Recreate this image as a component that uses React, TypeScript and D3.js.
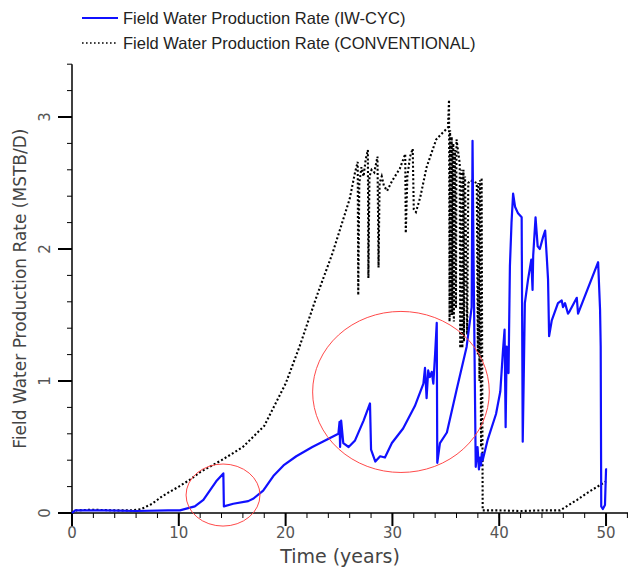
import React from "react";
import * as d3 from "d3";

const W = 629;
const H = 571;

// [time (years), rate (MSTB/D)]
const iwCycSeries: [number, number][] = [
  [0, 0.0], [0.3, 0.02], [3, 0.02], [6, 0.015], [9, 0.02], [10.1, 0.02], [11.5, 0.05], [12.3, 0.1],
  [12.9, 0.17], [13.5, 0.24], [14.17, 0.3], [14.22, 0.05], [15.1, 0.07], [16.5, 0.09], [17.0, 0.11],
  [17.9, 0.17], [18.85, 0.28], [19.8, 0.36], [21.0, 0.43], [22.5, 0.5], [24.94, 0.6], [25.05, 0.69],
  [25.1, 0.5], [25.2, 0.7], [25.4, 0.53], [25.9, 0.5], [26.5, 0.55], [27.3, 0.7], [27.9, 0.83],
  [28.0, 0.48], [28.4, 0.39], [28.85, 0.43], [29.3, 0.42], [29.95, 0.53], [31.0, 0.64], [32.1, 0.81],
  [32.9, 0.98], [33.05, 1.1], [33.2, 0.87], [33.35, 1.08], [33.5, 1.03], [33.68, 1.07], [33.83, 0.98],
  [34.0, 1.21], [34.15, 1.44], [34.2, 0.38], [34.45, 0.53], [35.1, 0.61], [36.0, 0.93], [36.95, 1.26],
  [37.42, 1.56], [37.5, 2.82], [37.6, 1.9], [37.8, 0.35], [37.97, 0.5], [38.1, 0.33], [38.2, 0.42],
  [38.3, 0.36], [38.36, 0.45], [38.45, 0.4], [38.9, 0.55], [39.7, 0.75], [40.1, 0.92], [40.35, 1.23],
  [40.5, 1.39], [40.6, 0.65], [40.7, 1.26], [40.87, 1.06], [41.0, 1.87], [41.15, 2.2], [41.3, 2.42],
  [41.48, 2.32], [41.76, 2.27], [42.1, 2.24], [42.2, 0.54], [42.32, 1.16], [42.4, 1.59], [42.7, 1.77],
  [43.0, 1.92], [43.12, 1.69], [43.18, 1.95], [43.4, 2.24], [43.6, 2.02], [43.8, 2.0], [44.1, 2.09],
  [44.3, 2.14], [44.45, 1.94], [44.57, 1.77], [44.67, 1.34], [44.92, 1.46], [45.5, 1.59], [45.85, 1.61],
  [45.97, 1.56], [46.16, 1.59], [46.44, 1.51], [46.6, 1.53], [47.26, 1.63], [47.38, 1.51], [49.26, 1.9],
  [49.44, 1.54], [49.5, 1.26], [49.55, 0.05], [49.7, 0.03], [49.9, 0.06], [50.0, 0.33], [50.1, 0.33],
];

const conventionalSeries: [number, number][] = [
  [0, 0], [0.4, 0.02], [2, 0.025], [4, 0.02], [5.5, 0.02], [6.5, 0.03], [7.5, 0.07], [8.5, 0.13],
  [10, 0.2], [11, 0.25], [12, 0.31], [14, 0.4], [16, 0.5], [18, 0.66], [19, 0.82], [20, 0.98],
  [21.3, 1.26], [22.9, 1.64], [24.4, 1.97], [26, 2.38], [26.5, 2.58], [26.75, 2.66], [26.8, 1.65],
  [26.9, 2.5], [27.1, 2.62], [27.3, 2.55], [27.5, 2.68], [27.7, 2.75], [27.75, 1.78], [27.85, 2.55],
  [28.05, 2.6], [28.3, 2.58], [28.6, 2.7], [28.7, 1.86], [28.8, 2.5], [29.0, 2.55], [29.2, 2.48],
  [29.5, 2.44], [30.0, 2.52], [30.7, 2.61], [31.2, 2.72], [31.25, 2.12], [31.4, 2.55], [31.65, 2.7],
  [31.9, 2.76], [32.0, 2.3], [32.2, 2.28], [32.6, 2.39], [33.2, 2.62], [34.1, 2.83], [34.7, 2.88],
  [35.2, 2.92], [35.3, 3.13], [35.35, 1.45], [35.4, 2.9], [35.45, 1.5], [35.55, 2.85], [35.6, 1.5],
  [35.7, 2.8], [35.75, 1.45], [35.85, 2.75], [35.95, 1.55], [36.0, 2.83], [36.3, 2.65], [36.35, 1.25],
  [36.45, 2.6], [36.55, 1.25], [36.65, 2.6], [36.7, 1.3], [36.8, 2.55], [37.0, 1.35], [37.1, 2.5],
  [37.3, 2.52], [37.9, 2.5], [38.0, 1.2], [38.05, 2.5], [38.15, 1.0], [38.2, 2.52], [38.3, 0.5],
  [38.35, 2.54], [38.45, 0.02], [40, 0.02], [42, 0.015], [44, 0.02], [45.7, 0.02], [46.5, 0.06],
  [47.3, 0.1], [48.2, 0.15], [49.4, 0.21], [50.0, 0.24],
];

const xMajorTicks = [0, 10, 20, 30, 40, 50];
const yMajorTicks = [0, 1, 2, 3];
const legendLabels = [
  "Field Water Production Rate (IW-CYC)",
  "Field Water Production Rate (CONVENTIONAL)",
];
const xTitle = "Time (years)";
const yTitle = "Field Water Production Rate (MSTB/D)";

// highlight ellipses in data units: [centerT, centerV, radiusT, radiusV]
const highlightEllipses: [number, number, number, number][] = [
  [14.14, 0.136, 3.46, 0.235],
  [30.8, 0.917, 8.27, 0.61],
];

export default function App() {
  const x = d3.scaleLinear().domain([0, 52]).range([72, 627.4]);
  const y = d3.scaleLinear().domain([0, 3.4]).range([513, 64.2]);
  const line = d3
    .line<[number, number]>()
    .x((d) => x(d[0]))
    .y((d) => y(d[1]));

  const xMinor = d3.range(0, 52.001, 2);
  const yMinor = d3.range(0, 3.4001, 0.2);
  const tickFont = "DejaVu Sans, sans-serif";
  const legendFont = "Liberation Sans, Arial, sans-serif";

  return (
    <svg
      width={W}
      height={H}
      style={{ position: "absolute", left: 0, top: 0, background: "#fff" }}
    >
      {/* legend */}
      <line x1={82} x2={118} y1={18} y2={18} stroke="#1010ff" strokeWidth={2} />
      <text x={123} y={24} fontFamily={legendFont} fontSize={16.5} fill="#222">
        {legendLabels[0]}
      </text>
      <line x1={82} x2={116} y1={43} y2={43} stroke="#000" strokeWidth={1.6} strokeDasharray="1.6,2.4" />
      <text x={123} y={49} fontFamily={legendFont} fontSize={16.5} fill="#222">
        {legendLabels[1]}
      </text>

      {/* axes */}
      <line x1={58} x2={628} y1={y(0)} y2={y(0)} stroke="#000" strokeWidth={1.5} />
      <line x1={x(0)} x2={x(0)} y1={y(3.4)} y2={y(0)} stroke="#000" strokeWidth={1.5} />
      {xMinor.map((t) => (
        <line key={"xm" + t} x1={x(t)} x2={x(t)} y1={y(0)} y2={y(0) + 5} stroke="#000" strokeWidth={1} />
      ))}
      {xMajorTicks.map((t) => (
        <g key={"xM" + t}>
          <line x1={x(t)} x2={x(t)} y1={y(0)} y2={y(0) + 13} stroke="#000" strokeWidth={2} />
          <text x={x(t)} y={y(0) + 25} textAnchor="middle" fontFamily={tickFont} fontSize={15} fill="#555">
            {t}
          </text>
        </g>
      ))}
      {yMinor.map((v) => (
        <line key={"ym" + v} x1={x(0) - 5} x2={x(0)} y1={y(v)} y2={y(v)} stroke="#000" strokeWidth={1} />
      ))}
      {yMajorTicks.map((v) => (
        <g key={"yM" + v}>
          <line x1={x(0) - 14} x2={x(0)} y1={y(v)} y2={y(v)} stroke="#000" strokeWidth={2} />
          <text
            transform={`translate(${x(0) - 22},${y(v)}) rotate(-90)`}
            textAnchor="middle"
            fontFamily={tickFont}
            fontSize={15}
            fill="#555"
          >
            {v}
          </text>
        </g>
      ))}
      <text x={340} y={563} textAnchor="middle" fontFamily={tickFont} fontSize={19} fill="#444">
        {xTitle}
      </text>
      <text
        transform={`translate(26,${(y(0) + y(3.4)) / 2}) rotate(-90)`}
        textAnchor="middle"
        fontFamily={tickFont}
        fontSize={17}
        fill="#444"
      >
        {yTitle}
      </text>

      {/* series */}
      <path d={line(conventionalSeries) || ""} fill="none" stroke="#000" strokeWidth={2.1} strokeDasharray="2,2.2" />
      <path d={line(iwCycSeries) || ""} fill="none" stroke="#1010ff" strokeWidth={2.2} strokeLinejoin="round" />

      {/* highlight ellipses */}
      {highlightEllipses.map(([ct, cv, rt, rv], i) => (
        <ellipse
          key={"e" + i}
          cx={x(ct)}
          cy={y(cv)}
          rx={x(rt) - x(0)}
          ry={y(0) - y(rv)}
          fill="none"
          stroke="#ff4a4a"
          strokeWidth={1}
        />
      ))}
    </svg>
  );
}
